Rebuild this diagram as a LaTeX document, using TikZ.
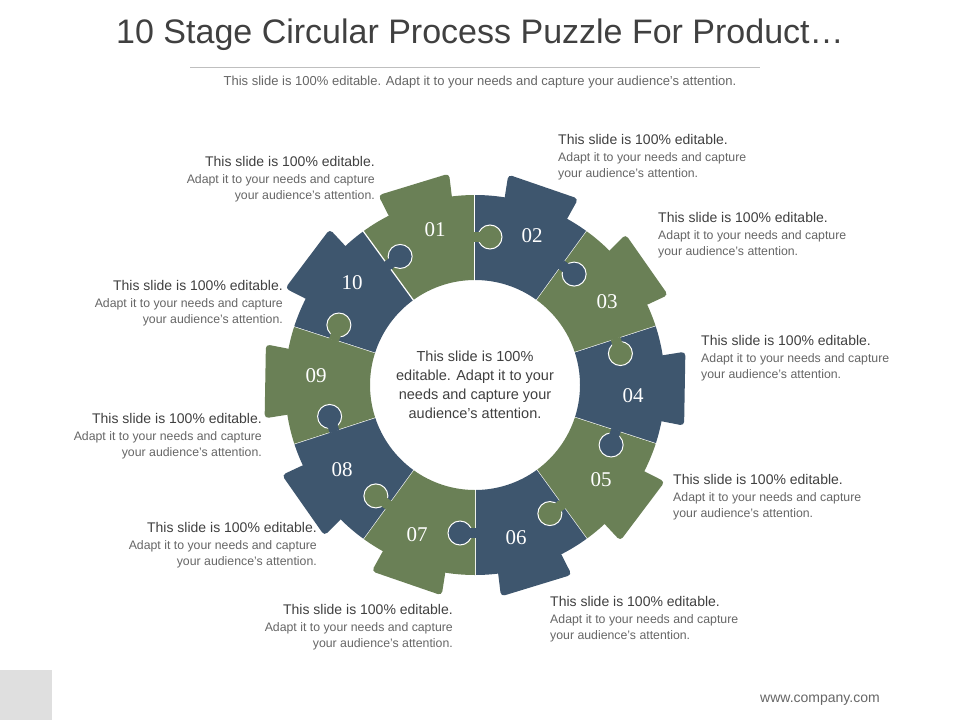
\documentclass[tikz,border=0pt]{standalone}
\usepackage{fontspec}
\setmainfont{Liberation Sans}
\newfontfamily\numfont{Liberation Serif}
\usetikzlibrary{calc}
\definecolor{pg}{HTML}{6A8056}
\definecolor{pb}{HTML}{3E566E}
\definecolor{tx}{HTML}{404040}
\definecolor{tl}{HTML}{666666}
\begin{document}
\begin{tikzpicture}[x=1pt,y=1pt,
 head/.style={font=\fontsize{14}{16}\selectfont,text=tx,inner sep=0},
 body/.style={font=\fontsize{12.3}{16}\selectfont,text=tl,inner sep=0},
 num/.style={font=\numfont\fontsize{21}{22}\selectfont,text=white}]
\useasboundingbox (0,0) rectangle (960,-720);
\fill[white] (0,0) rectangle (960,-720);
\coordinate (C) at (475,-385);
\foreach \k in {1,...,10}{
  \pgfmathsetmacro{\s}{126-36*(\k-1)}
  \pgfmathsetmacro{\e}{90-36*(\k-1)}
  \pgfmathsetmacro{\m}{\e+17}
  \pgfmathtruncatemacro{\odd}{mod(\k,2)}
  \ifnum\odd=1 \def\col{pg}\else\def\col{pb}\fi
  \fill[\col] ($(C)+(\s:105)$) -- ($(C)+(\s:190)$) arc[start angle=\s,end angle=\e,radius=190] -- ($(C)+(\e:105)$) arc[start angle=\e,end angle=\s,radius=105] -- cycle;
  \fill[\col,rounded corners=4pt] ($(C)+(\m-10:186)$) -- ($(C)+(\m-10:213)$) -- ($(C)+(\m+10:213)$) -- ($(C)+(\m+10:186)$) -- cycle;
  \draw[white,line width=1.2pt] ($(C)+(\e:104)$) -- ($(C)+(\e:191)$);
}
\foreach \k in {1,...,10}{
  \pgfmathsetmacro{\e}{90-36*(\k-1)}
  \pgfmathtruncatemacro{\odd}{mod(\k,2)}
  \ifnum\odd=1 \def\col{pg}\else\def\col{pb}\fi
  \fill[\col] ($(C)+(\e:148)+(\e+90:3)$) -- ($(C)+(\e:148)+(\e+90:3)+(\e-90:10)$) -- cycle;
  \fill[\col] ($(C)+(\e:148)+(\e+90:6)+(\e-90:0)$) rectangle ($(C)+(\e:148)+(\e-90:6)$);
  \draw[white,line width=1pt,fill=\col] ($(C)+(\e:148)+(\e-90:15)$) circle[radius=12];
  \fill[\col] ($(C)+(\e:148)+(\e+90:2)$) -- ($(C)+(\e:142)+(\e-90:6)$) -- ($(C)+(\e:154)+(\e-90:6)$) -- cycle;
  \fill[\col] ($(C)+(\e:143)+(\e+90:1)$) -- ($(C)+(\e:153)+(\e+90:1)$) -- ($(C)+(\e:153)+(\e-90:8)$) -- ($(C)+(\e:143)+(\e-90:8)$) -- cycle;
}
\node[num] (n1) at (435,-230) {01};
\node[num] (n2) at (532,-236) {02};
\node[num] (n3) at (607,-302) {03};
\node[num] (n4) at (633,-396) {04};
\node[num] (n5) at (601,-480) {05};
\node[num] (n6) at (516,-538) {06};
\node[num] (n7) at (417,-535) {07};
\node[num] (n8) at (342,-470) {08};
\node[num] (n9) at (316,-376) {09};
\node[num] (n10) at (352,-283) {10};
\node[align=center,font=\fontsize{14.5}{19}\selectfont,text=tx] (ct) at (475,-385) {This slide is 100\%\\editable. Adapt it to your\\needs and capture your\\audience's attention.};
\node[font=\fontsize{34}{36}\selectfont,text=tx] (title) at (480,-35) {10 Stage Circular Process Puzzle For Product\dots};
\draw[gray!50] (190,-67) -- (760,-67);
\node[font=\fontsize{13}{15}\selectfont,text=tl] (sub) at (480,-82) {This slide is 100\% editable. Adapt it to your needs and capture your audience's attention.};
\newcommand{\lblR}[3]{\node[head,anchor=base east] (#3a) at (#1,#2) {This slide is 100\% editable.};
 \node[body,anchor=base east] (#3b) at (#1,#2-17) {Adapt it to your needs and capture};
 \node[body,anchor=base east] (#3c) at (#1,#2-33) {your audience's attention.};}
\newcommand{\lblL}[3]{\node[head,anchor=base west] (#3a) at (#1,#2) {This slide is 100\% editable.};
 \node[body,anchor=base west] (#3b) at (#1,#2-17) {Adapt it to your needs and capture};
 \node[body,anchor=base west] (#3c) at (#1,#2-33) {your audience's attention.};}
\lblR{375}{-166}{l1}
\lblL{558}{-144}{l2}
\lblL{658}{-222}{l3}
\lblL{701}{-345}{l4}
\lblL{673}{-484}{l5}
\lblL{550}{-606}{l6}
\lblR{453}{-614}{l7}
\lblR{317}{-532}{l8}
\lblR{262}{-423}{l9}
\lblR{283}{-290}{l10}
\fill[gray!25] (0,-670) rectangle (52,-720);
\node[font=\fontsize{14}{16}\selectfont,text=tl] (web) at (820,-700) {www.company.com};
\end{tikzpicture}
\end{document}
